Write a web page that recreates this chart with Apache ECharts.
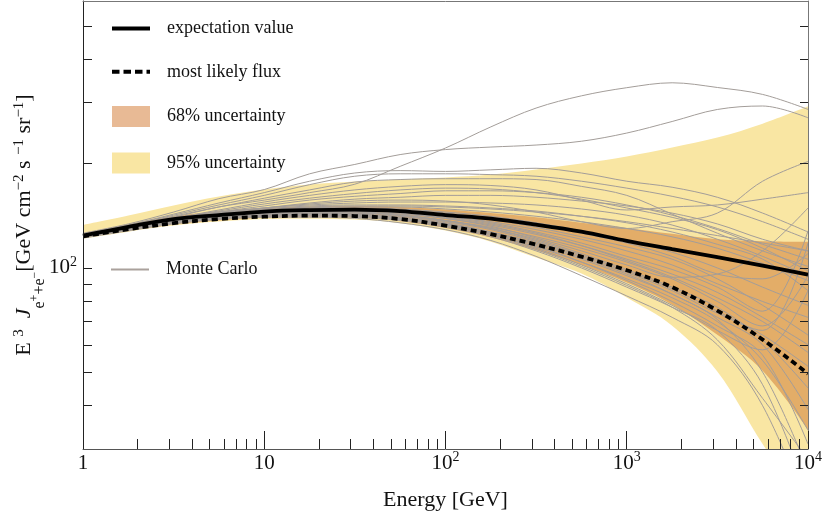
<!DOCTYPE html>
<html><head><meta charset="utf-8">
<script src="https://cdn.jsdelivr.net/npm/echarts@6/dist/echarts.min.js"></script>
<style>html,body{margin:0;padding:0;background:#fff}#c{width:824px;height:521px}</style>
</head><body><div id="c"></div>
<script>
const energy = [1, 1.78, 3.16, 5.62, 10, 17.8, 31.6, 56.2, 100, 178, 316, 562, 1000, 1780, 3160, 5620, 10000];
const expectationValue = [124, 131.4, 138.4, 142.1, 145.5, 146.9, 147.4, 145.9, 142.1, 138.8, 133.4, 127.3, 119.7, 113.3, 107.4, 101.5, 95.6];
const mostLikelyFlux = [123.4, 129.4, 134.7, 138.4, 140.6, 141.6, 141.2, 138.4, 132.5, 125.2, 116.8, 107.8, 98.5, 88.0, 75.3, 62.1, 49.5];
const band95Upper = [133, 141.6, 151.4, 160.7, 168.4, 174.1, 177.6, 180, 182.4, 186.1, 192.4, 200.2, 209.8, 222.7, 238, 261, 293];
const band95Lower = [121.5, 127.3, 132.5, 136.1, 138.4, 138.8, 137.9, 134.7, 128.2, 119.1, 107.1, 96.3, 82.1, 68.1, 50.2, 31, 20];
const band68Upper = [126, 133.5, 141, 145.5, 149, 150.5, 151, 150, 147.5, 144, 140, 135, 130.5, 125.5, 121, 119.5, 119];
const band68Lower = [122, 128, 133.5, 137, 139.5, 140, 139.5, 136.5, 130.5, 122.5, 112.5, 102, 90.7, 78.3, 64.1, 50.5, 34.1];

const mc01 = [125, 132, 140, 150, 157, 165, 174.5, 196.5, 222, 255.5, 289.5, 314, 331.5, 342.5, 332, 317, 287];
const mc02 = [126, 134, 145, 158.5, 168.4, 187, 199, 212.5, 219.7, 223.4, 226.4, 232.2, 245.2, 264.8, 286.8, 293.5, 271.4];
const mc03 = [125, 133, 143, 154, 165, 178, 188, 191, 190, 192, 194, 188, 178, 171, 160, 144, 127];
const mc04 = [125, 133, 142, 152, 162, 174, 184, 187, 187, 186, 184, 178, 170, 161, 150, 136, 121];
const mc05 = [124, 132, 141, 150, 159, 168, 177, 180, 181, 181, 180, 172, 162, 143, 126, 112, 101];
const mc06 = [124, 131, 139, 147, 155, 162, 168, 172, 174, 173, 168, 157, 147, 150, 152, 158, 165];
const mc07 = [124, 131, 139, 146, 153, 159, 164, 168, 170, 169, 165, 158, 149, 140, 129, 114, 98];
const mc08 = [124, 131, 138, 145, 151, 157, 161, 164, 167, 167, 165, 160, 152, 142, 130, 117, 106];
const mc09 = [124, 131, 138, 144, 149, 154, 158, 160, 162, 162, 160, 156, 151, 144, 134, 121, 112];
const mc10 = [124, 131, 138, 144, 149, 153, 156, 157, 156, 152, 145, 136, 130, 136, 144, 178, 203];
const mc11 = [124, 130, 137, 142, 145, 146, 146, 144, 139, 132, 122, 112, 102, 94, 96, 112, 149];
const mc12 = [123, 130, 136, 140, 143, 144, 144, 142, 137, 130, 121, 110, 99, 88, 77, 62, 45];
const mc13 = [124, 131, 137, 141, 144, 145, 145, 143, 139, 133, 125, 116, 106, 96, 85, 72, 60];
const mc14 = [123, 129, 135, 139, 141, 142, 141, 138, 133, 125, 115, 104, 93, 82, 70, 54, 34];
const mc15 = [124, 130, 136, 141, 144, 146, 146, 145, 141, 136, 129, 121, 112, 102, 90, 80, 72];
const mc16 = [123, 129, 135, 139, 142, 143, 142, 139, 134, 127, 118, 107, 96, 84, 71, 50, 26];
const mc17 = [124, 131, 138, 143, 146, 148, 148, 147, 144, 139, 133, 126, 118, 108, 96, 93, 110];
const mc18 = [123, 130, 136, 140, 142, 143, 142, 139, 133, 125, 114, 102, 90, 78, 66, 58, 86];
const mc19 = [124, 130, 137, 141, 144, 145, 145, 142, 137, 130, 120, 109, 98, 87, 75, 64, 52];
const mc20 = [123, 129, 135, 139, 141, 141, 140, 137, 131, 123, 112, 100, 88, 77, 66, 46, 22];
const mc21 = [124, 131, 137, 142, 145, 147, 147, 145, 141, 135, 127, 118, 108, 99, 88, 75, 128];
const mc22 = [123, 130, 136, 140, 143, 144, 143, 140, 135, 127, 117, 106, 95, 84, 72, 60, 39];
const mc23 = [124, 130, 136, 141, 144, 145, 144, 142, 137, 131, 123, 114, 104, 93, 80, 68, 95];
const mc24 = [123, 129, 135, 139, 141, 142, 141, 138, 132, 124, 113, 101, 89, 77, 62, 42, 28];
const mc25 = [124, 131, 137, 142, 145, 146, 146, 144, 140, 134, 126, 116, 105, 94, 82, 70, 57];
const mc26 = [124, 131, 138, 143, 147, 149, 149, 148, 145, 141, 135, 128, 120, 111, 100, 88, 78];
const mc27 = [123, 129, 136, 140, 143, 144, 143, 141, 136, 129, 119, 108, 97, 86, 74, 66, 118];
const mc28 = [124, 130, 136, 140, 143, 143, 142, 139, 134, 126, 116, 104, 92, 80, 68, 56, 31];
const mc29 = [124, 131, 137, 142, 145, 147, 147, 146, 143, 138, 131, 123, 115, 106, 93, 78, 64];
const mc30 = [124, 131, 138, 143, 147, 149, 150, 150, 148, 145, 141, 136, 130, 123, 114, 103, 92];
const mc31 = [125, 132, 139, 144, 148, 151, 152, 152, 151, 149, 146, 141, 135, 127, 117, 106, 86];
const mc32 = [124, 131, 138, 143, 147, 150, 151, 151, 150, 148, 145, 141, 136, 130, 124, 118, 112];
const mc33 = [125, 132, 139, 145, 149, 152, 154, 155, 155, 154, 152, 148, 142, 133, 121, 108, 95];
const mc34 = [122, 128, 134, 138, 140, 140, 139, 135, 129, 120, 108, 95, 83, 72, 60, 40, 20];
const monteCarlo = [mc01, mc02, mc03, mc04, mc05, mc06, mc07, mc08, mc09, mc10, mc11, mc12, mc13, mc14, mc15, mc16, mc17,
  mc18, mc19, mc20, mc21, mc22, mc23, mc24, mc25, mc26, mc27, mc28, mc29, mc30, mc31, mc32, mc33, mc34];

const xTickValues = [1, 10, 100, 1000, 10000];
const xTickLabels = ['1', '10', '10^2', '10^3', '10^4'];
const xMinorTickValues = [2, 3, 4, 5, 6, 7, 8, 9, 20, 30, 40, 50, 60, 70, 80, 90, 200, 300, 400, 500, 600, 700, 800, 900,
  2000, 3000, 4000, 5000, 6000, 7000, 8000, 9000];
const yTickValues = [100];
const yTickLabels = ['10^2'];
const yMinorTickValues = [40, 50, 60, 70, 80, 90, 100, 200, 300, 400, 500];
const xRange = [1, 10000];
const yRange = [30, 590];

const F = 'Liberation Serif';
const YELLOW = '#f9e6a3', ORANGE = '#e3ad68', ORANGE_LEG = '#e8ba95', MC = '#a39d99';

function richLabel(lbl) {
  const p = lbl.split('^');
  return p.length > 1 ? '{b|' + p[0] + '}{s|' + p[1] + '}' : '{b|' + p[0] + '}';
}
const tickRich = {
  b: {fontFamily: F, fontSize: 21, color: '#111', lineHeight: 26},
  s: {fontFamily: F, fontSize: 14, color: '#111', verticalAlign: 'top', padding: [0, 0, 0, 0]}
};
const pairs = arr => energy.map((e, i) => [e, arr[i]]);
const smooth = 0.35;

const series = [];
function band(name, arr, color) {
  series.push({type: 'line', name, data: pairs(arr), symbol: 'none', smooth, silent: true,
    lineStyle: {width: 0, color}, itemStyle: {color},
    areaStyle: {color, opacity: 1, origin: 'start'}});
}
band('95% uncertainty', band95Upper, YELLOW);
band('68% uncertainty', band68Upper, ORANGE);
band('band68lower', band68Lower, YELLOW);
band('band95lower', band95Lower, '#ffffff');
monteCarlo.forEach(arr => series.push({type: 'line', name: 'Monte Carlo', data: pairs(arr), symbol: 'none', smooth,
  silent: true, lineStyle: {color: MC, width: 1}, itemStyle: {color: MC}}));
series.push({type: 'line', name: 'expectation value', data: pairs(expectationValue), symbol: 'none', smooth,
  lineStyle: {color: '#000', width: 3.8}, itemStyle: {color: '#000'}});
series.push({type: 'line', name: 'most likely flux', data: pairs(mostLikelyFlux), symbol: 'none', smooth,
  lineStyle: {color: '#000', width: 3.8, type: [6, 4]}, itemStyle: {color: '#000'}});

const legText = {fontFamily: F, fontSize: 18, color: '#111', padding: [0, 0, 0, 12]};
const option = {
  animation: false,
  textStyle: {fontFamily: F},
  grid: {left: 83, right: 16, top: 1, bottom: 72, show: false, containLabel: false, outerBoundsMode: 'none'},
  legend: [{
    data: [
      {name: 'expectation value', itemStyle: {opacity: 0}, lineStyle: {width: 4, color: '#000', type: 'solid'}},
      {name: 'most likely flux', itemStyle: {opacity: 0}, lineStyle: {width: 4, color: '#000', type: [7.5, 4]}},
      {name: '68% uncertainty', icon: 'rect', itemStyle: {color: ORANGE_LEG, borderWidth: 0}},
      {name: '95% uncertainty', icon: 'rect', itemStyle: {color: YELLOW, borderWidth: 0}}
    ],
    orient: 'vertical', left: 110, top: 19.5, padding: 0, itemWidth: 38, itemHeight: 21, itemGap: 25.3,
    textStyle: legText, selectedMode: false
  }, {
    data: [{name: 'Monte Carlo', itemStyle: {opacity: 0}, lineStyle: {width: 2, color: '#aaa19c'}}],
    orient: 'vertical', left: 110, top: 260.5, padding: 0, itemWidth: 38, itemHeight: 21,
    textStyle: legText, selectedMode: false
  }],
  xAxis: [{
    type: 'log', min: xRange[0], max: xRange[1], position: 'bottom', z: 10,
    axisLine: {show: true, lineStyle: {color: '#555', width: 1}},
    axisTick: {show: true, inside: true, length: 18, lineStyle: {color: '#222'}},
    splitLine: {show: false},
    axisLabel: {margin: 1, rich: tickRich,
      formatter: v => { const i = xTickValues.findIndex(t => Math.abs(t - v) / t < 1e-6); return i < 0 ? '' : richLabel(xTickLabels[i]); }},
    name: 'Energy [GeV]', nameLocation: 'middle', nameGap: 40, nameMoveOverlap: false,
    nameTextStyle: {fontFamily: F, fontSize: 22, color: '#111'}
  }, {
    type: 'value', min: Math.log10(xRange[0]), max: Math.log10(xRange[1]), position: 'bottom', z: 10,
    axisLine: {show: false}, splitLine: {show: false}, axisLabel: {show: false},
    axisTick: {show: true, inside: true, length: 10, lineStyle: {color: '#222'},
      customValues: xMinorTickValues.map(v => Math.log10(v))}
  }, {
    type: 'value', min: 0, max: 1, position: 'top', z: 10,
    axisLine: {show: true, lineStyle: {color: '#777'}}, axisTick: {show: false},
    axisLabel: {show: false}, splitLine: {show: false}
  }],
  yAxis: [{
    type: 'log', min: yRange[0], max: yRange[1], position: 'left', z: 10,
    axisLine: {show: true, lineStyle: {color: '#222', width: 1}},
    axisTick: {show: false}, splitLine: {show: false},
    axisLabel: {margin: 6, showMinLabel: false, showMaxLabel: false, rich: tickRich,
      formatter: v => { const i = yTickValues.findIndex(t => Math.abs(t - v) / t < 1e-6); return i < 0 ? '' : richLabel(yTickLabels[i]); }},
    name: '{m|E }{u|3}{m|  }{i|J}{d|e}{ds|+}{d|+e}{ds|\u2212}{m|[GeV cm}{u|\u22122}{m| s }{u|\u22121}{m| sr}{u|\u22121}{m|]}',
    nameLocation: 'middle', nameRotate: 90, nameGap: 35.5, nameMoveOverlap: false,
    nameTextStyle: {rich: {
      m: {fontFamily: F, fontSize: 22, color: '#111', lineHeight: 46},
      i: {fontFamily: F, fontSize: 22, fontStyle: 'italic', color: '#111', lineHeight: 46},
      u: {fontFamily: F, fontSize: 15, color: '#111', verticalAlign: 'top', padding: [10, 0, 0, 0]},
      d: {fontFamily: F, fontSize: 16, color: '#111', verticalAlign: 'bottom'},
      ds: {fontFamily: F, fontSize: 12, color: '#111', verticalAlign: 'top', padding: [27, 0, 0, 0]}
    }}
  }, {
    type: 'value', min: Math.log10(yRange[0]), max: Math.log10(yRange[1]), position: 'left', z: 10,
    axisLine: {show: false}, splitLine: {show: false}, axisLabel: {show: false},
    axisTick: {show: true, inside: true, length: 9, lineStyle: {color: '#222'},
      customValues: yMinorTickValues.map(v => Math.log10(v))}
  }, {
    type: 'value', min: Math.log10(yRange[0]), max: Math.log10(yRange[1]), position: 'right', z: 10,
    axisLine: {show: true, lineStyle: {color: '#777'}}, splitLine: {show: false}, axisLabel: {show: false},
    axisTick: {show: true, inside: true, length: 8, lineStyle: {color: '#222'},
      customValues: yMinorTickValues.map(v => Math.log10(v))}
  }],
  series
};
const chart = echarts.init(document.getElementById('c'));
chart.setOption(option);
</script>
</body></html>
